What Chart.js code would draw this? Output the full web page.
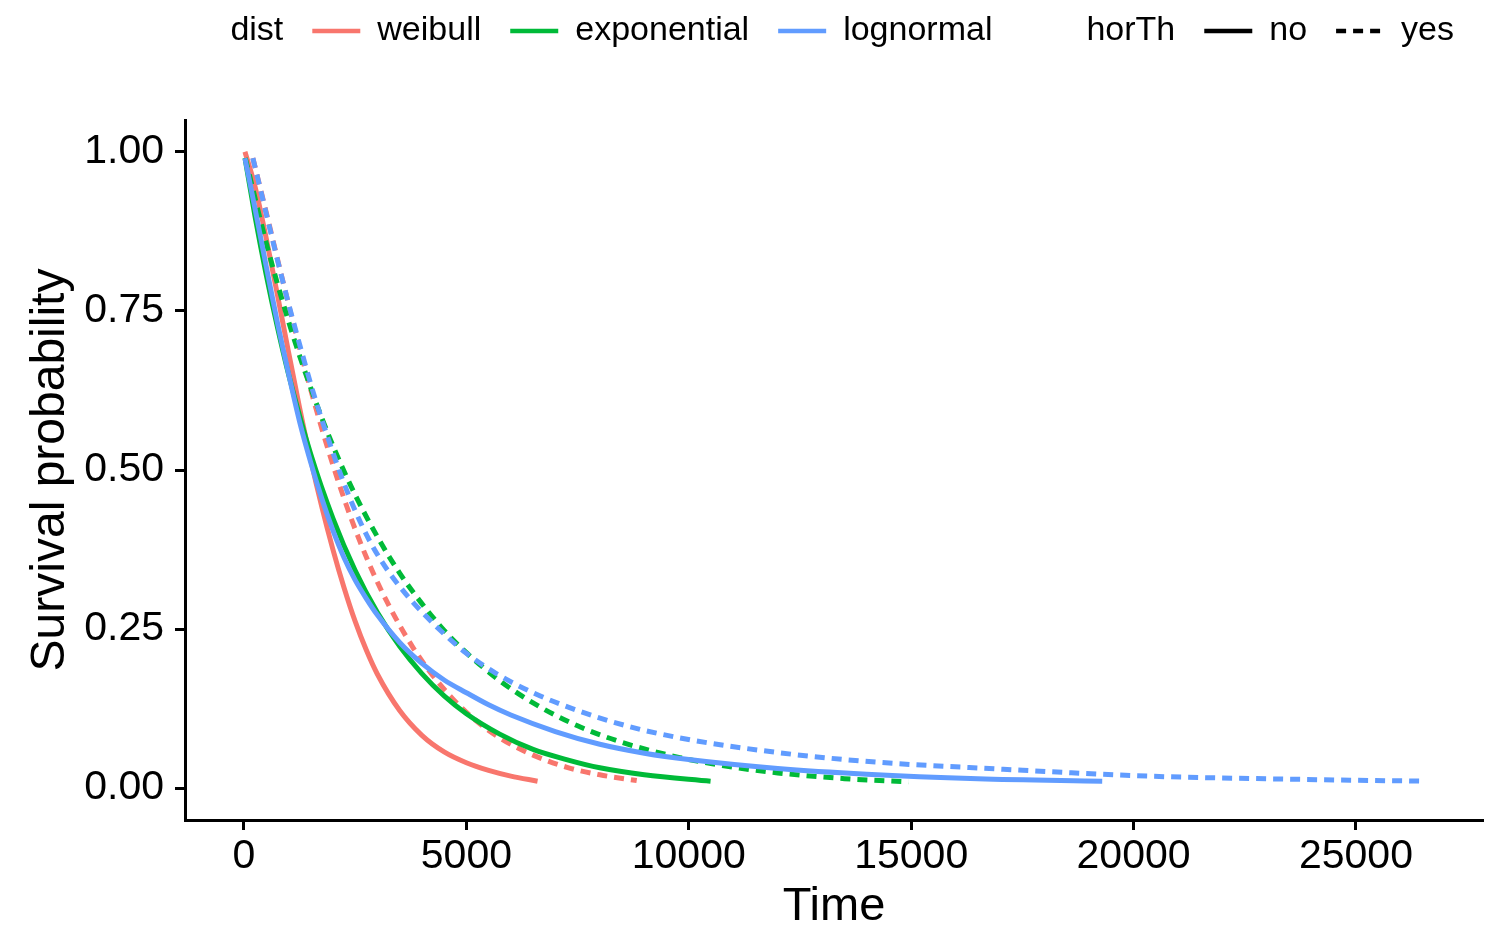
<!DOCTYPE html>
<html>
<head>
<meta charset="utf-8">
<script src="https://cdn.jsdelivr.net/npm/chart.js@4.4.1/dist/chart.umd.min.js"></script>
<style>body{margin:0;background:#fff}</style>
</head>
<body>
<canvas id="grafico" width="1508" height="928"></canvas>
<script>
// valores (tiempo, probabilidad de supervivencia)
const weibullNoTime = [22, 250, 500, 750, 1000, 1250, 1500, 1750, 2000, 2250, 2500, 2750, 3000, 3500, 4000, 4500, 5000, 5500, 6000, 6600];
const weibullNoSurv = [1.00, 0.945, 0.864, 0.776, 0.686, 0.598, 0.516, 0.442, 0.375, 0.315, 0.262, 0.217, 0.179, 0.122, 0.083, 0.057, 0.040, 0.028, 0.019, 0.011];

const weibullYesTime = [200, 500, 800, 1100, 1400, 1700, 2000, 2300, 2600, 2900, 3200, 3500, 3800, 4200, 4700, 5200, 5800, 6500, 7300, 8000, 8830];
const weibullYesSurv = [0.99, 0.905, 0.818, 0.733, 0.652, 0.577, 0.508, 0.445, 0.389, 0.339, 0.295, 0.256, 0.221, 0.181, 0.140, 0.107, 0.077, 0.052, 0.032, 0.021, 0.012];

const expNoTime = [23, 250, 500, 750, 1000, 1500, 2000, 2500, 3000, 3500, 4000, 4500, 5000, 5750, 6500, 7250, 8000, 9000, 10490];
const expNoSurv = [0.99, 0.898, 0.807, 0.725, 0.651, 0.525, 0.424, 0.342, 0.276, 0.223, 0.180, 0.145, 0.117, 0.085, 0.061, 0.045, 0.032, 0.021, 0.011];

const expYesTime = [30, 500, 1000, 1500, 2000, 2500, 3000, 3500, 4000, 4500, 5000, 5750, 6500, 7500, 8500, 9800, 11000, 12000, 13500, 14937];
const expYesSurv = [0.99, 0.857, 0.734, 0.629, 0.538, 0.461, 0.395, 0.338, 0.290, 0.248, 0.213, 0.169, 0.134, 0.098, 0.072, 0.048, 0.033, 0.024, 0.015, 0.010];

const lognormNoTime = [22, 250, 500, 750, 1000, 1250, 1500, 1750, 2000, 2250, 2500, 2750, 3000, 3500, 4000, 4500, 5000, 5500, 6000, 7000, 8000, 9000, 10000, 12000, 14000, 16500, 19295];
const lognormNoSurv = [0.99, 0.91, 0.82, 0.732, 0.652, 0.576, 0.512, 0.455, 0.405, 0.362, 0.327, 0.298, 0.272, 0.229, 0.196, 0.170, 0.150, 0.131, 0.115, 0.089, 0.069, 0.055, 0.045, 0.031, 0.022, 0.015, 0.011];

const lognormYesTime = [200, 400, 700, 1000, 1300, 1600, 1900, 2200, 2500, 2800, 3100, 3400, 3800, 4400, 5000, 5700, 6500, 7500, 8600, 9800, 12000, 14200, 17000, 20300, 23650, 26530];
const lognormYesSurv = [0.99, 0.932, 0.845, 0.762, 0.685, 0.612, 0.548, 0.488, 0.436, 0.392, 0.356, 0.326, 0.292, 0.249, 0.212, 0.179, 0.150, 0.122, 0.098, 0.079, 0.056, 0.041, 0.030, 0.019, 0.014, 0.011];

const xTicks = [0, 5000, 10000, 15000, 20000, 25000];
const yTicks = [0, 0.25, 0.5, 0.75, 1];

const colores = {weibull: '#F8766D', exponential: '#00BA38', lognormal: '#619CFF'};
const guiones = [10, 7];

function puntos(tiempos, surv) {
    return tiempos.map((t, i) => ({x: t, y: surv[i]}));
}

function serie(nombre, tiempos, surv, color, punteada) {
    return {
        label: nombre,
        data: puntos(tiempos, surv),
        borderColor: color,
        borderWidth: 5,
        borderDash: punteada ? guiones : [],
        pointRadius: 0,
        fill: false,
        cubicInterpolationMode: 'monotone'
    };
}

// la primera serie se dibuja encima
const series = [
    serie('lognormal no', lognormNoTime, lognormNoSurv, colores.lognormal, false),
    serie('lognormal yes', lognormYesTime, lognormYesSurv, colores.lognormal, true),
    serie('exponential no', expNoTime, expNoSurv, colores.exponential, false),
    serie('exponential yes', expYesTime, expYesSurv, colores.exponential, true),
    serie('weibull no', weibullNoTime, weibullNoSurv, colores.weibull, false),
    serie('weibull yes', weibullYesTime, weibullYesSurv, colores.weibull, true)
];

const vacio = 'rgba(0,0,0,0)';
function itemTitulo(texto) {
    return {text: texto, fillStyle: vacio, strokeStyle: vacio, lineWidth: 0, pointStyle: 'circle', hidden: false, fontColor: '#000'};
}
function itemLinea(texto, color, dash) {
    return {text: texto, fillStyle: vacio, strokeStyle: color, lineWidth: 4.5, lineDash: dash, pointStyle: 'line', hidden: false, fontColor: '#000'};
}

// la leyenda ocupa todo el margen superior
const altoLeyenda = {
    id: 'altoLeyenda',
    afterInit(chart) {
        const fitOriginal = chart.legend.fit;
        chart.legend.fit = function () {
            fitOriginal.call(this);
            this.height = 135;
        };
    }
};

const fuente = "'Liberation Sans', Arial, sans-serif";
Chart.defaults.font.family = fuente;
Chart.defaults.color = '#000';

const ctx = document.getElementById('grafico').getContext('2d');
const grafico = new Chart(ctx, {
    type: 'line',
    data: {datasets: series},
    plugins: [altoLeyenda],
    options: {
        animation: false,
        responsive: false,
        devicePixelRatio: 1,
        layout: {padding: {top: -15, right: 25, bottom: 0, left: 0}},
        plugins: {
            tooltip: {enabled: false},
            legend: {
                position: 'top',
                align: 'end',
                onClick: null,
                labels: {
                    usePointStyle: true,
                    pointStyleWidth: 48,
                    boxWidth: 48,
                    padding: 29,
                    color: '#000',
                    font: {size: 34},
                    generateLabels: () => [
                        itemTitulo('dist'),
                        itemLinea('weibull', colores.weibull, []),
                        itemLinea('exponential', colores.exponential, []),
                        itemLinea('lognormal', colores.lognormal, []),
                        itemTitulo('horTh'),
                        itemLinea('no', '#000', []),
                        itemLinea('yes', '#000', guiones)
                    ]
                }
            }
        },
        scales: {
            x: {
                type: 'linear',
                min: -1326,
                max: 27856,
                afterBuildTicks: (eje) => { eje.ticks = xTicks.map(v => ({value: v})); },
                afterFit: (eje) => { eje.height = 108; },
                ticks: {
                    padding: 2,
                    font: {size: 41},
                    color: '#000',
                    maxRotation: 0,
                    callback: (v) => String(v)
                },
                grid: {drawOnChartArea: false, drawTicks: true, tickLength: 10, tickWidth: 3, tickColor: '#000'},
                border: {display: true, width: 3, color: '#000'},
                title: {display: true, text: 'Time', font: {size: 47, lineHeight: 1}, color: '#000', padding: {top: 0, bottom: -3}}
            },
            y: {
                type: 'linear',
                min: -0.05,
                max: 1.05,
                afterBuildTicks: (eje) => { eje.ticks = yTicks.map(v => ({value: v})); },
                afterFit: (eje) => { eje.width = 185; },
                ticks: {
                    padding: 11,
                    font: {size: 41},
                    color: '#000',
                    callback: (v) => Number(v).toFixed(2)
                },
                grid: {drawOnChartArea: false, drawTicks: true, tickLength: 10, tickWidth: 3, tickColor: '#000'},
                border: {display: true, width: 3, color: '#000'},
                title: {display: true, text: 'Survival probability', font: {size: 48, lineHeight: 1}, color: '#000', padding: {top: 27, bottom: 0}}
            }
        }
    }
});
</script>
</body>
</html>
